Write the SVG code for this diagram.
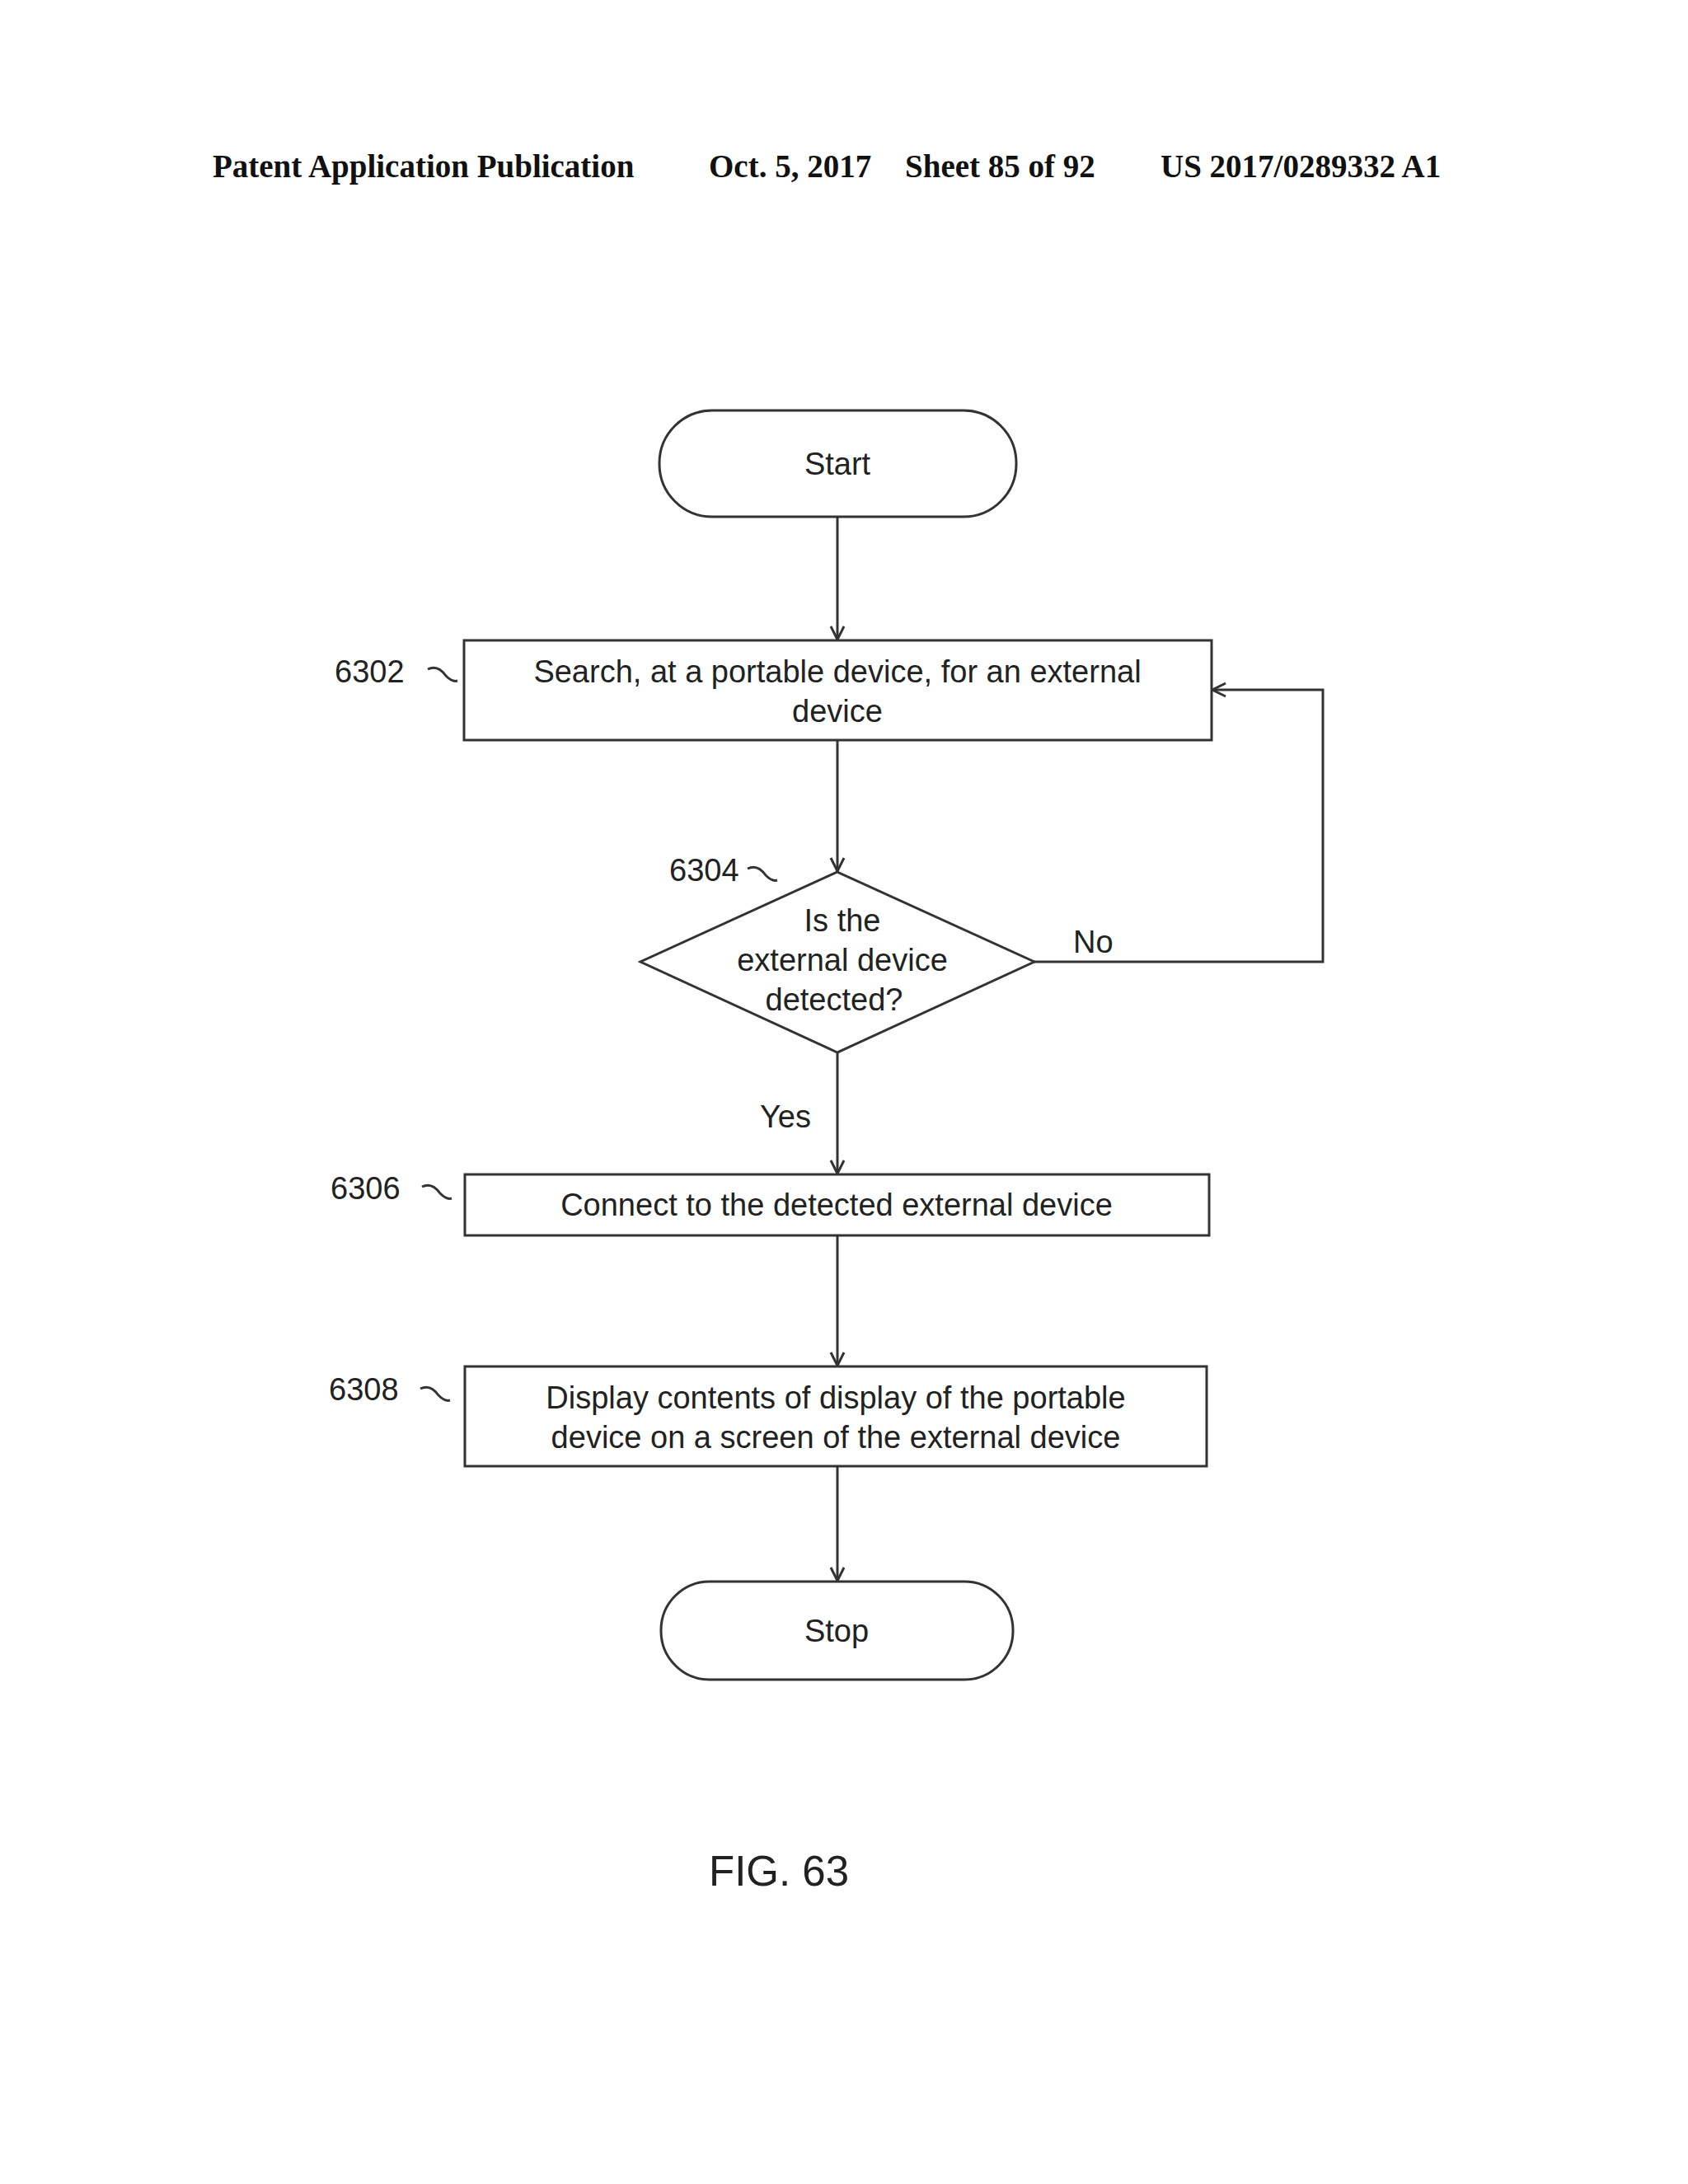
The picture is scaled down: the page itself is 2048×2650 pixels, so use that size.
<svg xmlns="http://www.w3.org/2000/svg" width="2048" height="2650" viewBox="0 0 2048 2650">
<style>
.s{fill:none;stroke:#333;stroke-width:3}
.t{font-family:"Liberation Sans",Arial,sans-serif;font-size:38px;fill:#222;text-anchor:middle}
.l{font-family:"Liberation Sans",Arial,sans-serif;font-size:38px;fill:#222}
.h{font-family:"Liberation Serif","Times New Roman",serif;font-size:39px;font-weight:bold;fill:#111}
</style>
<defs><marker id="a" markerWidth="20" markerHeight="20" refX="18" refY="10" orient="auto" markerUnits="userSpaceOnUse"><path d="M2,2 L18,10 L2,18" fill="none" stroke="#333" stroke-width="3"/></marker></defs>
<rect width="2048" height="2650" fill="#fff"/>
<text class="h" x="258" y="215">Patent Application Publication</text>
<text class="h" x="860" y="215">Oct. 5, 2017</text>
<text class="h" x="1098" y="215">Sheet 85 of 92</text>
<text class="h" x="1408" y="215">US 2017/0289332 A1</text>
<g id="start"><rect class="s" x="800" y="498" width="433" height="129" rx="64"/><text class="t" x="1016" y="576">Start</text></g>
<g id="n6302"><rect class="s" x="563" y="777" width="907" height="121"/><text class="t" x="1016" y="828">Search, at a portable device, for an external</text><text class="t" x="1016" y="876">device</text>
<text class="l" x="406" y="828">6302</text><path class="s" d="M519,812 q12,-6 22,8 q8,8 14,6" stroke-width="2"/></g>
<g id="n6304"><polygon class="s" points="1016,1058 1255,1167 1016,1277 777,1167"/><text class="t" x="1022" y="1130">Is the</text><text class="t" x="1022" y="1178">external device</text><text class="t" x="1012" y="1226">detected?</text>
<text class="l" x="812" y="1069">6304</text><path class="s" d="M907,1054 q12,-6 22,8 q8,8 14,6" stroke-width="2"/></g>
<g id="n6306"><rect class="s" x="564" y="1425" width="903" height="74"/><text class="t" x="1015" y="1475">Connect to the detected external device</text>
<text class="l" x="401" y="1455">6306</text><path class="s" d="M512,1440 q12,-6 22,8 q8,8 14,6" stroke-width="2"/></g>
<g id="n6308"><rect class="s" x="564" y="1658" width="900" height="121"/><text class="t" x="1014" y="1709">Display contents of display of the portable</text><text class="t" x="1014" y="1757">device on a screen of the external device</text>
<text class="l" x="399" y="1699">6308</text><path class="s" d="M510,1685 q12,-6 22,8 q8,8 14,6" stroke-width="2"/></g>
<g id="stop"><rect class="s" x="802" y="1919" width="427" height="119" rx="59"/><text class="t" x="1015" y="1992">Stop</text></g>
<g id="connectors">
<line class="s" x1="1016" y1="627" x2="1016" y2="776" marker-end="url(#a)"/>
<line class="s" x1="1016" y1="898" x2="1016" y2="1057" marker-end="url(#a)"/>
<polyline class="s" points="1255,1167 1605,1167 1605,837 1471,837" marker-end="url(#a)"/>
<line class="s" x1="1016" y1="1277" x2="1016" y2="1424" marker-end="url(#a)"/>
<line class="s" x1="1016" y1="1499" x2="1016" y2="1657" marker-end="url(#a)"/>
<line class="s" x1="1016" y1="1779" x2="1016" y2="1918" marker-end="url(#a)"/>
<text class="l" x="1302" y="1156">No</text>
<text class="l" x="922" y="1368">Yes</text>
</g>
<text class="l" x="860" y="2288" style="font-size:51px">FIG. 63</text>
</svg>
